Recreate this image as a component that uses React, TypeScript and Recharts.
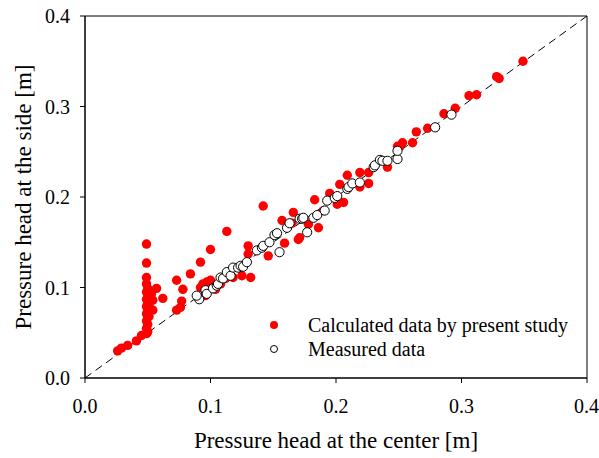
import React from "react";
import {
  ScatterChart,
  Scatter,
  XAxis,
  YAxis,
  ReferenceLine,
  ReferenceArea,
} from "recharts";

// [pressure head at center, pressure head at side] in m
const calculated: number[][] = [
  [0.026, 0.03], [0.029, 0.033], [0.034, 0.036], [0.041, 0.041], [0.045, 0.047],
  [0.049, 0.148], [0.049, 0.127], [0.049, 0.111], [0.049, 0.104], [0.05, 0.099],
  [0.049, 0.095], [0.05, 0.091], [0.049, 0.087], [0.05, 0.083], [0.049, 0.079],
  [0.05, 0.075], [0.049, 0.071], [0.05, 0.067], [0.049, 0.063], [0.05, 0.059],
  [0.049, 0.055], [0.05, 0.051], [0.049, 0.049], [0.051, 0.092], [0.051, 0.08],
  [0.051, 0.068], [0.057, 0.099], [0.062, 0.088], [0.054, 0.086], [0.054, 0.075],
  [0.053, 0.093], [0.073, 0.108], [0.078, 0.098], [0.077, 0.085], [0.073, 0.075],
  [0.076, 0.078], [0.084, 0.115], [0.092, 0.128], [0.1, 0.142], [0.113, 0.162],
  [0.142, 0.19], [0.092, 0.1], [0.094, 0.104], [0.096, 0.091], [0.1, 0.108],
  [0.097, 0.106], [0.104, 0.098], [0.108, 0.104], [0.112, 0.11], [0.118, 0.111],
  [0.125, 0.113], [0.132, 0.111], [0.13, 0.146], [0.13, 0.137], [0.146, 0.135],
  [0.159, 0.149], [0.17, 0.153], [0.166, 0.183], [0.157, 0.174], [0.165, 0.171],
  [0.171, 0.155], [0.186, 0.166], [0.178, 0.17], [0.183, 0.197], [0.19, 0.185],
  [0.195, 0.204], [0.206, 0.194], [0.201, 0.192], [0.209, 0.224], [0.203, 0.214],
  [0.219, 0.211], [0.219, 0.227], [0.226, 0.227], [0.226, 0.215], [0.241, 0.233],
  [0.251, 0.256], [0.249, 0.256], [0.253, 0.26], [0.261, 0.26], [0.264, 0.272],
  [0.273, 0.276], [0.286, 0.292], [0.295, 0.298], [0.306, 0.312], [0.312, 0.313],
  [0.328, 0.333], [0.33, 0.331], [0.349, 0.35],
];

const measured: number[][] = [
  [0.091, 0.087], [0.089, 0.091], [0.096, 0.097], [0.097, 0.093], [0.102, 0.099],
  [0.105, 0.102], [0.106, 0.104], [0.108, 0.111], [0.11, 0.11], [0.113, 0.117],
  [0.116, 0.113], [0.118, 0.122], [0.122, 0.122], [0.124, 0.124], [0.126, 0.123],
  [0.129, 0.128], [0.137, 0.141], [0.141, 0.144], [0.142, 0.146], [0.147, 0.15],
  [0.151, 0.158], [0.153, 0.16], [0.155, 0.139], [0.161, 0.166], [0.163, 0.171],
  [0.171, 0.176], [0.173, 0.176], [0.174, 0.177], [0.177, 0.161], [0.182, 0.177],
  [0.185, 0.18], [0.191, 0.185], [0.193, 0.196], [0.199, 0.199], [0.201, 0.201],
  [0.209, 0.209], [0.21, 0.211], [0.213, 0.215], [0.219, 0.216], [0.23, 0.233],
  [0.231, 0.235], [0.235, 0.241], [0.237, 0.24], [0.241, 0.24], [0.249, 0.242],
  [0.249, 0.251], [0.279, 0.277], [0.292, 0.291],
];

const ticks = [0, 0.1, 0.2, 0.3, 0.4];
const legendLabels = ["Calculated data by present study", "Measured data"];

const calcData = calculated.map(([x, y]) => ({ x, y }));
const measData = measured.map(([x, y]) => ({ x, y }));

const FONT = "'Liberation Serif', 'Times New Roman', serif";

const RedDot = (props: any) => (
  <circle cx={props.cx} cy={props.cy} r={4.7} fill="#ff0000" />
);
const OpenDot = (props: any) => (
  <circle cx={props.cx} cy={props.cy} r={4.6} fill="#fff" stroke="#000" strokeWidth={1} />
);

export default function App() {
  return (
    <div style={{ position: "absolute", left: 0, top: 0, width: 599, height: 458, background: "#fff" }}>
      <ScatterChart
        width={599}
        height={458}
        margin={{ top: 16, right: 12, bottom: 0, left: 0 }}
        style={{ fontFamily: FONT }}
      >
        <XAxis
          type="number"
          dataKey="x"
          domain={[0, 0.4]}
          ticks={ticks}
          tickFormatter={(v: number) => v.toFixed(1)}
          height={80}
          stroke="#000"
          tickSize={5}
          tickMargin={16}
          tick={{ fill: "#000", fontSize: 20 }}
          label={{
            value: "Pressure head at the center [m]",
            position: "center",
            dy: 22,
            fill: "#000",
            fontSize: 23,
          }}
        />
        <YAxis
          type="number"
          dataKey="y"
          domain={[0, 0.4]}
          ticks={ticks}
          tickFormatter={(v: number) => v.toFixed(1)}
          width={85}
          stroke="#000"
          tickSize={5}
          tickMargin={10}
          tick={{ fill: "#000", fontSize: 20 }}
          label={{
            value: "Pressure head at the side [m]",
            angle: -90,
            position: "center",
            dx: -20,
            fill: "#000",
            fontSize: 23,
          }}
        />
        <ReferenceArea x1={0} x2={0.4} y1={0} y2={0.4} fill="none" stroke="#000" strokeWidth={1} />
        <ReferenceLine
          segment={[{ x: 0, y: 0 }, { x: 0.4, y: 0.4 }]}
          stroke="#000"
          strokeDasharray="8 5"
          strokeWidth={1}
        />
        <Scatter
          name={legendLabels[0]}
          data={calcData}
          shape={RedDot}
          isAnimationActive={false}
        />
        <Scatter
          name={legendLabels[1]}
          data={measData}
          shape={OpenDot}
          isAnimationActive={false}
        />
      </ScatterChart>
      <svg
        width={310}
        height={50}
        style={{ position: "absolute", left: 265, top: 312, fontFamily: FONT }}
      >
        <circle cx={9} cy={13} r={4} fill="#ff0000" />
        <text x={43} y={20} fontSize={20} fill="#000">
          {legendLabels[0]}
        </text>
        <circle cx={9} cy={37} r={3.5} fill="#fff" stroke="#000" />
        <text x={43} y={44} fontSize={20} fill="#000">
          {legendLabels[1]}
        </text>
      </svg>
    </div>
  );
}
